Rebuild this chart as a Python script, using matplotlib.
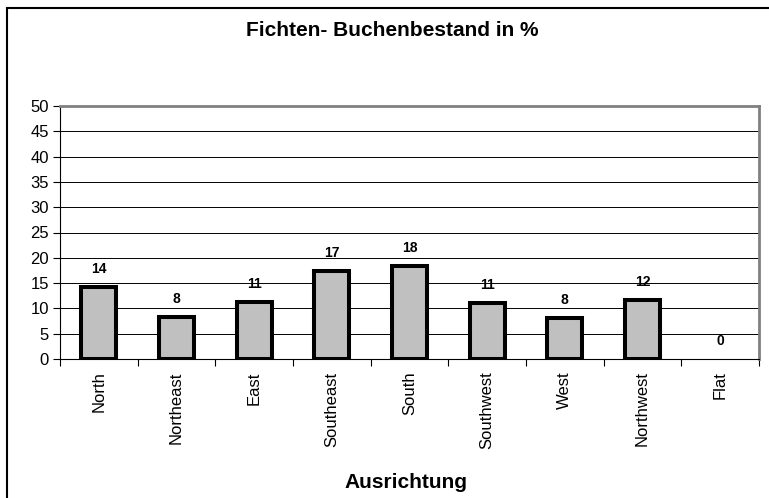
import numpy as np
import matplotlib.pyplot as plt
from matplotlib.patches import Rectangle

plt.rcParams['font.family'] = ['Liberation Sans', 'DejaVu Sans']

richtung = ['North', 'Northeast', 'East', 'Southeast', 'South',
            'Southwest', 'West', 'Northwest', 'Flat']
anteil = [14.3, 8.3, 11.2, 17.4, 18.3, 11.1, 8.1, 11.7, 0.0]
y_ticks = [0, 5, 10, 15, 20, 25, 30, 35, 40, 45, 50]

fig = plt.figure(figsize=(7.69, 4.98), dpi=100)
ax = fig.add_axes([60/769, 1 - 359/498, 699/769, 253/498])

# rahmen um das ganze diagramm (rechts und unten abgeschnitten)
fig.patches.append(Rectangle((6.5/769, -1), 2, 2 - 8.5/498, transform=fig.transFigure,
                             fill=False, edgecolor='black', linewidth=1.5))

x = np.arange(len(richtung))
kanten = ['black' if v > 0 else 'none' for v in anteil]
ax.bar(x, anteil, width=0.45, color='#C0C0C0', edgecolor=kanten, linewidth=2.9, zorder=3)
for i in range(len(x)):
    ax.annotate(format(anteil[i], '.0f'), (x[i], anteil[i]), xytext=(0, 13),
                textcoords='offset points', ha='center', va='center',
                fontsize=10, fontweight='bold')

ax.set_ylim(0, 50)
ax.set_xlim(-0.5, len(x) - 0.5)
ax.set_yticks(y_ticks)
ax.yaxis.grid(True, color='black', linewidth=0.7)
ax.set_axisbelow(True)
ax.tick_params(axis='y', labelsize=12, length=5, direction='out', pad=3)

ax.set_xticks(np.arange(-0.5, len(x)), [''] * (len(x) + 1))
ax.set_xticks(x, richtung, minor=True, rotation=90)
ax.tick_params(axis='x', which='major', length=5, direction='out')
ax.tick_params(axis='x', which='minor', length=0, labelsize=12, pad=9)

ax.spines['top'].set_color('#808080')
ax.spines['right'].set_color('#808080')
ax.spines['top'].set_linewidth(2)
ax.spines['right'].set_linewidth(2)

fig.text(392/769, 1 - 30/498, 'Fichten- Buchenbestand in %', ha='center', va='center',
         fontsize=15, fontweight='bold')
fig.text(406/769, 1 - 482/498, 'Ausrichtung', ha='center', va='center',
         fontsize=15, fontweight='bold')

fig.savefig('out.png')
